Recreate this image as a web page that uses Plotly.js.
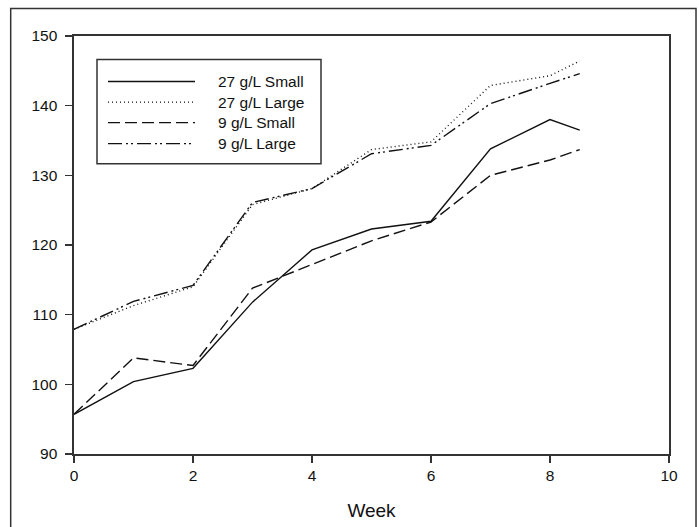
<!DOCTYPE html>
<html>
<head>
<meta charset="utf-8">
<script src="https://cdn.plot.ly/plotly-3.0.1.min.js"></script>
<style>html,body{margin:0;padding:0;background:#fff;}#chart{width:699px;height:527px;}</style>
</head>
<body>
<div id="chart"></div>
<script>
var weeks = [0, 1, 2, 3, 4, 5, 6, 7, 8, 8.5];
var small27 = [95.7, 100.4, 102.3, 111.8, 119.3, 122.3, 123.4, 133.8, 138.0, 136.5];
var large27 = [107.9, 111.3, 114.0, 125.8, 128.1, 133.7, 134.8, 142.9, 144.3, 146.4];
var small9 = [95.7, 103.8, 102.7, 113.8, 117.2, 120.6, 123.3, 130.0, 132.2, 133.7];
var large9 = [107.9, 111.9, 114.2, 126.1, 128.1, 133.1, 134.3, 140.3, 143.2, 144.6];
var names = ["27 g/L Small", "27 g/L Large", "9 g/L Small", "9 g/L Large"];
var xTicks = [0, 2, 4, 6, 8, 10];
var yTicks = [90, 100, 110, 120, 130, 140, 150];

var FONT = "Liberation Sans, Arial, sans-serif";
var series = [small27, large27, small9, large9];
var dashes = ["solid", "1px,3px", "12px,5px", "14px,4px,2px,3px,2px,4px"];
var lineStyle = function (i) { return {color: "#111", width: 1.4, dash: dashes[i]}; };

var traces = series.map(function (ys, i) {
  return {x: weeks, y: ys, name: names[i], type: "scatter", mode: "lines",
          line: lineStyle(i), showlegend: false};
});

// plot area in pixels: x 74..669, y 36.5..454
function px(x) { return (x - 74) / 595; }
function py(y) { return (454 - y) / 417.5; }

var shapes = [
  {type: "rect", xref: "paper", yref: "paper", x0: -0.1064, x1: 1.0454, y0: -0.4, y1: 1.0659,
   line: {color: "#333", width: 1.5}, fillcolor: "rgba(0,0,0,0)"},
  {type: "rect", xref: "paper", yref: "paper", x0: px(97), x1: px(321), y0: py(164), y1: py(60),
   line: {color: "#333", width: 1.5}, fillcolor: "#fff"}
];
var annotations = [];
var rowY = [82, 102.5, 123, 144];
names.forEach(function (n, i) {
  shapes.push({type: "line", xref: "paper", yref: "paper", x0: px(108), x1: px(195),
               y0: py(rowY[i]), y1: py(rowY[i]), line: lineStyle(i)});
  annotations.push({xref: "paper", yref: "paper", x: px(216), y: py(rowY[i]), text: n,
                    showarrow: false, xanchor: "left", yanchor: "middle",
                    font: {family: FONT, size: 15.5, color: "#111"}});
});

var axisCommon = {
  showgrid: false, zeroline: false, showline: true, linecolor: "#333", linewidth: 1.6,
  mirror: true, ticks: "outside", ticklen: 7, tickcolor: "#333", tickwidth: 1.4,
  tickfont: {family: FONT, size: 15.5, color: "#111"}
};

var layout = {
  width: 699, height: 527,
  margin: {l: 74, r: 30, t: 36, b: 73},
  paper_bgcolor: "#fff", plot_bgcolor: "#fff",
  font: {family: FONT, color: "#111"},
  xaxis: Object.assign({}, axisCommon, {
    range: [0, 10], tickmode: "array", tickvals: xTicks, ticktext: xTicks.map(String),
    title: {text: "Week", font: {size: 19, family: FONT, color: "#111"}, standoff: 20}
  }),
  yaxis: Object.assign({}, axisCommon, {
    range: [90, 150], tickmode: "array", tickvals: yTicks, ticktext: yTicks.map(String),
    ticklabelstandoff: 5
  }),
  showlegend: false,
  shapes: shapes,
  annotations: annotations
};

Plotly.newPlot("chart", traces, layout, {displayModeBar: false, staticPlot: true});
</script>
</body>
</html>
